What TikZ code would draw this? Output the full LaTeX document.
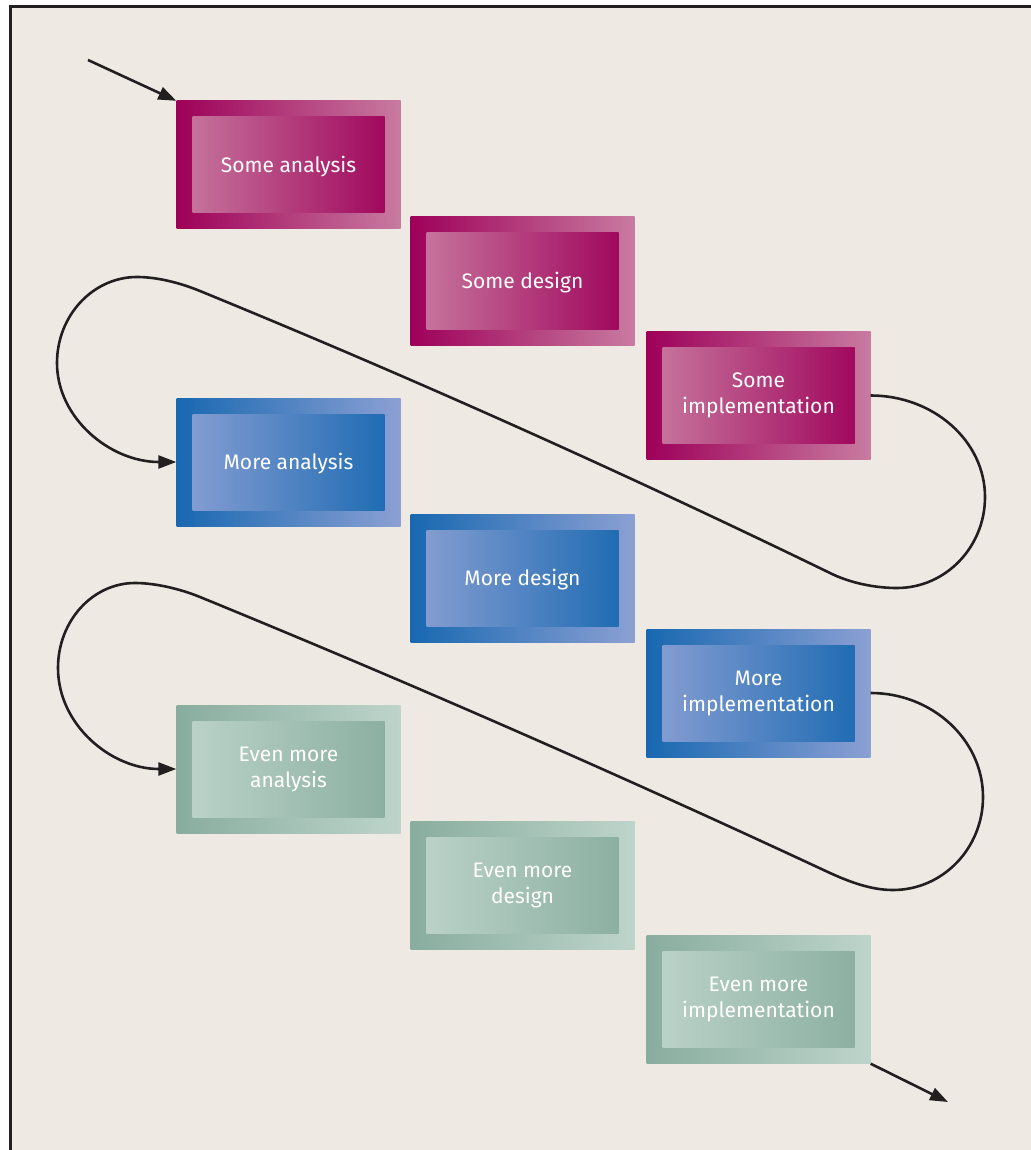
\documentclass[tikz,border=0pt]{standalone}
\usepackage{fontspec}
\usetikzlibrary{arrows.meta}
\newfontfamily\stagefont{Fira Sans}

\definecolor{paper}{RGB}{238,234,227}
\definecolor{ink}{RGB}{35,31,32}
\definecolor{mgDark}{RGB}{158,0,89}
\definecolor{mgLight}{RGB}{200,123,160}
\definecolor{blDark}{RGB}{24,104,177}
\definecolor{blLight}{RGB}{139,160,211}
\definecolor{gnDark}{RGB}{136,173,159}
\definecolor{gnLight}{RGB}{190,212,203}

\tikzset{
  stagebox/.style 2 args={
    rectangle, minimum width=224pt, minimum height=128pt, inner sep=0pt,
    align=center, text=white,
    font=\stagefont\fontsize{21}{26}\selectfont,
    execute at begin node={\rule{0pt}{20pt}},
    left color=#1, right color=#2,
    path picture={
      \shade[left color=#2, right color=#1]
        ([xshift=16pt,yshift=16pt]path picture bounding box.south west)
        rectangle
        ([xshift=-16pt,yshift=-16pt]path picture bounding box.north east);
    }
  },
  magentabox/.style={stagebox={mgDark}{mgLight}},
  bluebox/.style={stagebox={blDark}{blLight}},
  greenbox/.style={stagebox={gnDark}{gnLight}},
  flow/.style={draw=ink, line width=2.6pt, -{Triangle[length=18pt,width=13pt]}},
}

\begin{document}
\begin{tikzpicture}[x=1pt,y=-1pt]
  \useasboundingbox (0,0) rectangle (1030,1150);
  % page and frame
  \fill[white] (0,0) rectangle (1030,1150);
  \fill[paper] (10.8,6.7) rectangle (1032,1152);
  \draw[ink, line width=3pt] (10.8,1152) -- (10.8,6.7) -- (1032,6.7);

  % first pass
  \node[magentabox] (sa) at (288.5,165)   {Some analysis};
  \node[magentabox] (sd) at (522.5,281)   {Some design};
  \node[magentabox] (si) at (758.5,395.5) {Some\\implementation};
  % second pass
  \node[bluebox] (ma) at (288.5,462) {More analysis};
  \node[bluebox] (md) at (522.5,578) {More design};
  \node[bluebox] (mi) at (758.5,693) {More\\implementation};
  % third pass
  \node[greenbox] (ea) at (288.5,769)   {Even more\\analysis};
  \node[greenbox] (ed) at (522.5,885)   {Even more\\design};
  \node[greenbox] (ei) at (758.5,999.5) {Even more\\implementation};

  % entry and exit
  \coordinate (start) at (88,60);
  \coordinate (finish) at (948,1102);
  \draw[flow] (start) -- (sa.north west);
  \draw[flow] (ei.south east) -- (finish);

  % loop back from implementation to the next analysis
  \draw[flow] (si.east)
      .. controls (933.5,395.5) and (985,441) .. (985,497)
      .. controls (985,547) and (945.6,588) .. (897,588)
      .. controls (875,588) and (850,583) .. (830,573)
      .. controls (620,471) and (410,377) .. (200,291)
      .. controls (180,282.8) and (157,277) .. (137,277)
      .. controls (93,277) and (57,315.5) .. (57,363)
      .. controls (57,418) and (110,462) .. (ma.west);

  \draw[flow] (mi.east)
      .. controls (932,693) and (983,739.5) .. (983,797)
      .. controls (983,848) and (943,890) .. (893,890)
      .. controls (871,890) and (850,882) .. (830,873)
      .. controls (620,775) and (410,683) .. (200,597)
      .. controls (180,588.8) and (155,583) .. (135,583)
      .. controls (92.5,583) and (58,621) .. (58,668)
      .. controls (58,724.8) and (111,769) .. (ea.west);
\end{tikzpicture}
\end{document}
